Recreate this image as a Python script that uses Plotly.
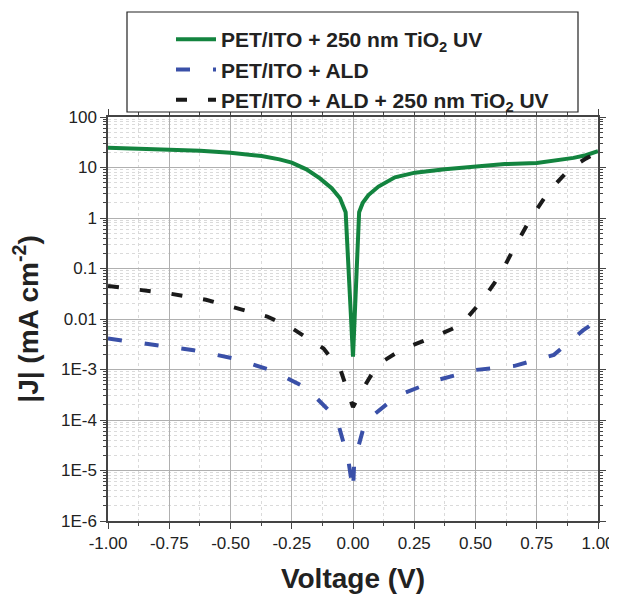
import plotly.graph_objects as go

# ---- data ----
v_tio2 = [-1.0, -0.75, -0.624, -0.5, -0.373, -0.3, -0.25, -0.19, -0.135, -0.087, -0.053, -0.03, 0.0,
          0.025, 0.04, 0.063, 0.104, 0.171, 0.253, 0.375, 0.5, 0.62, 0.75, 0.85, 0.9, 0.95, 1.0]
j_tio2 = [24.6, 22.9, 21.5, 19.6, 16.9, 14.5, 12.5, 9.2, 6.1, 3.9, 2.45, 1.3, 1.8e-3,
          1.3, 2.0, 2.85, 4.2, 6.4, 7.9, 9.2, 10.4, 11.7, 12.3, 14.0, 15.5, 17.5, 21]

v_ald = [-1.0, -0.815, -0.65, -0.49, -0.33, -0.19, -0.067, -0.02, 0.0, 0.005, 0.05, 0.18, 0.34,
         0.5, 0.66, 0.82, 0.94, 1.0]
j_ald = [4.1e-3, 3.1e-3, 2.4e-3, 1.67e-3, 9.5e-4, 4.3e-4, 1.08e-4, 1.7e-5, 4e-6, 1.5e-5, 9.3e-5,
         3.0e-4, 6.1e-4, 9.8e-4, 1.18e-3, 1.95e-3, 6.0e-3, 9.5e-3]

v_ald_tio2 = [-1.0, -0.75, -0.6, -0.5, -0.35, -0.25, -0.12, -0.05, -0.012, 0.0, 0.03, 0.1, 0.2,
              0.33, 0.44, 0.53, 0.6, 0.66, 0.73, 0.8, 0.886, 0.95, 1.0]
j_ald_tio2 = [0.045, 0.032, 0.024, 0.018, 0.0112, 0.0066, 0.0026, 9.5e-4, 2.4e-4, 1.8e-4, 3.4e-4,
              1.25e-3, 2.5e-3, 4.4e-3, 7.6e-3, 0.024, 0.074, 0.27, 1.07, 3.4, 9.6, 15, 20]

names = ["PET/ITO + 250 nm TiO<sub>2</sub> UV",
         "PET/ITO + ALD",
         "PET/ITO + ALD + 250 nm TiO<sub>2</sub> UV"]

x_ticks = [-1.0, -0.75, -0.5, -0.25, 0.0, 0.25, 0.5, 0.75, 1.0]
x_ticktext = ["-1.00", "-0.75", "-0.50", "-0.25", "0.00", "0.25", "0.50", "0.75", "1.00"]
y_ticks = [100, 10, 1, 0.1, 0.01, 1e-3, 1e-4, 1e-5, 1e-6]
y_ticktext = ["100", "10", "1", "0.1", "0.01", "1E-3", "1E-4", "1E-5", "1E-6"]

y_minor = [m * 10.0 ** d for d in range(-6, 2) for m in range(2, 10)]
x_minor = [-0.875, -0.625, -0.375, -0.125, 0.125, 0.375, 0.625, 0.875]

fig = go.Figure()
fig.add_trace(go.Scatter(x=v_tio2, y=j_tio2, mode="lines", name=names[0],
                         line=dict(color="#13843f", width=4)))
fig.add_trace(go.Scatter(x=v_ald, y=j_ald, mode="lines", name=names[1],
                         line=dict(color="#3a50a8", width=4, dash="14px,23px")))
fig.add_trace(go.Scatter(x=v_ald_tio2, y=j_ald_tio2, mode="lines", name=names[2],
                         line=dict(color="#1a1a1a", width=4, dash="11px,21px")))

axis_common = dict(
    showline=True, linecolor="#444", linewidth=1.5, mirror="allticks",
    ticks="outside", ticklen=6, tickwidth=1.2, tickcolor="#444",
    showgrid=True, gridcolor="#b0b0b0", gridwidth=1,
    zeroline=False, automargin=False,
    tickfont=dict(family="Liberation Sans, Arial", size=17, color="#222"),
)

fig.update_xaxes(
    range=[-1, 1], tickmode="array", tickvals=x_ticks, ticktext=x_ticktext,
    minor=dict(tickmode="array", tickvals=x_minor, ticks="outside", ticklen=3,
               tickcolor="#444", showgrid=True, gridcolor="#dadada", griddash="dot"),
    title=dict(text="<b>Voltage (V)</b>", standoff=16,
               font=dict(family="Liberation Sans, Arial", size=28, color="#222")),
    **axis_common,
)
fig.update_yaxes(
    type="log", range=[-6, 2], tickmode="array", tickvals=y_ticks, ticktext=y_ticktext,
    minor=dict(tickmode="array", tickvals=y_minor, ticks="outside", ticklen=3,
               tickcolor="#444", showgrid=True, gridcolor="#dadada", griddash="dot"),
    title=dict(text="<b>|J| (mA cm<sup>-2</sup>)</b>", standoff=18,
               font=dict(family="Liberation Sans, Arial", size=28, color="#222")),
    **axis_common,
)

# legend frame
fig.add_shape(type="rect", xref="paper", yref="paper",
              x0=(127 - 108) / 490, x1=(578 - 108) / 490,
              y0=(521 - 112) / 404, y1=(521 - 12) / 404,
              line=dict(color="#222", width=1.2), fillcolor="white", layer="above")

# page body adds an 8px offset, so the figure is drawn 8px smaller
fig.update_layout(
    width=609, height=587,
    margin=dict(l=100, r=19, t=109, b=74, autoexpand=False),
    paper_bgcolor="white", plot_bgcolor="white",
    legend=dict(x=(171 - 108) / 490, xanchor="left", y=1 + 98 / 404, yanchor="top",
                bgcolor="rgba(0,0,0,0)", borderwidth=0, tracegroupgap=0,
                font=dict(family="Liberation Sans, Arial", size=21, color="#222", weight="bold"),
                itemwidth=40),
    font=dict(family="Liberation Sans, Arial"),
)

fig.write_html("out.html")
